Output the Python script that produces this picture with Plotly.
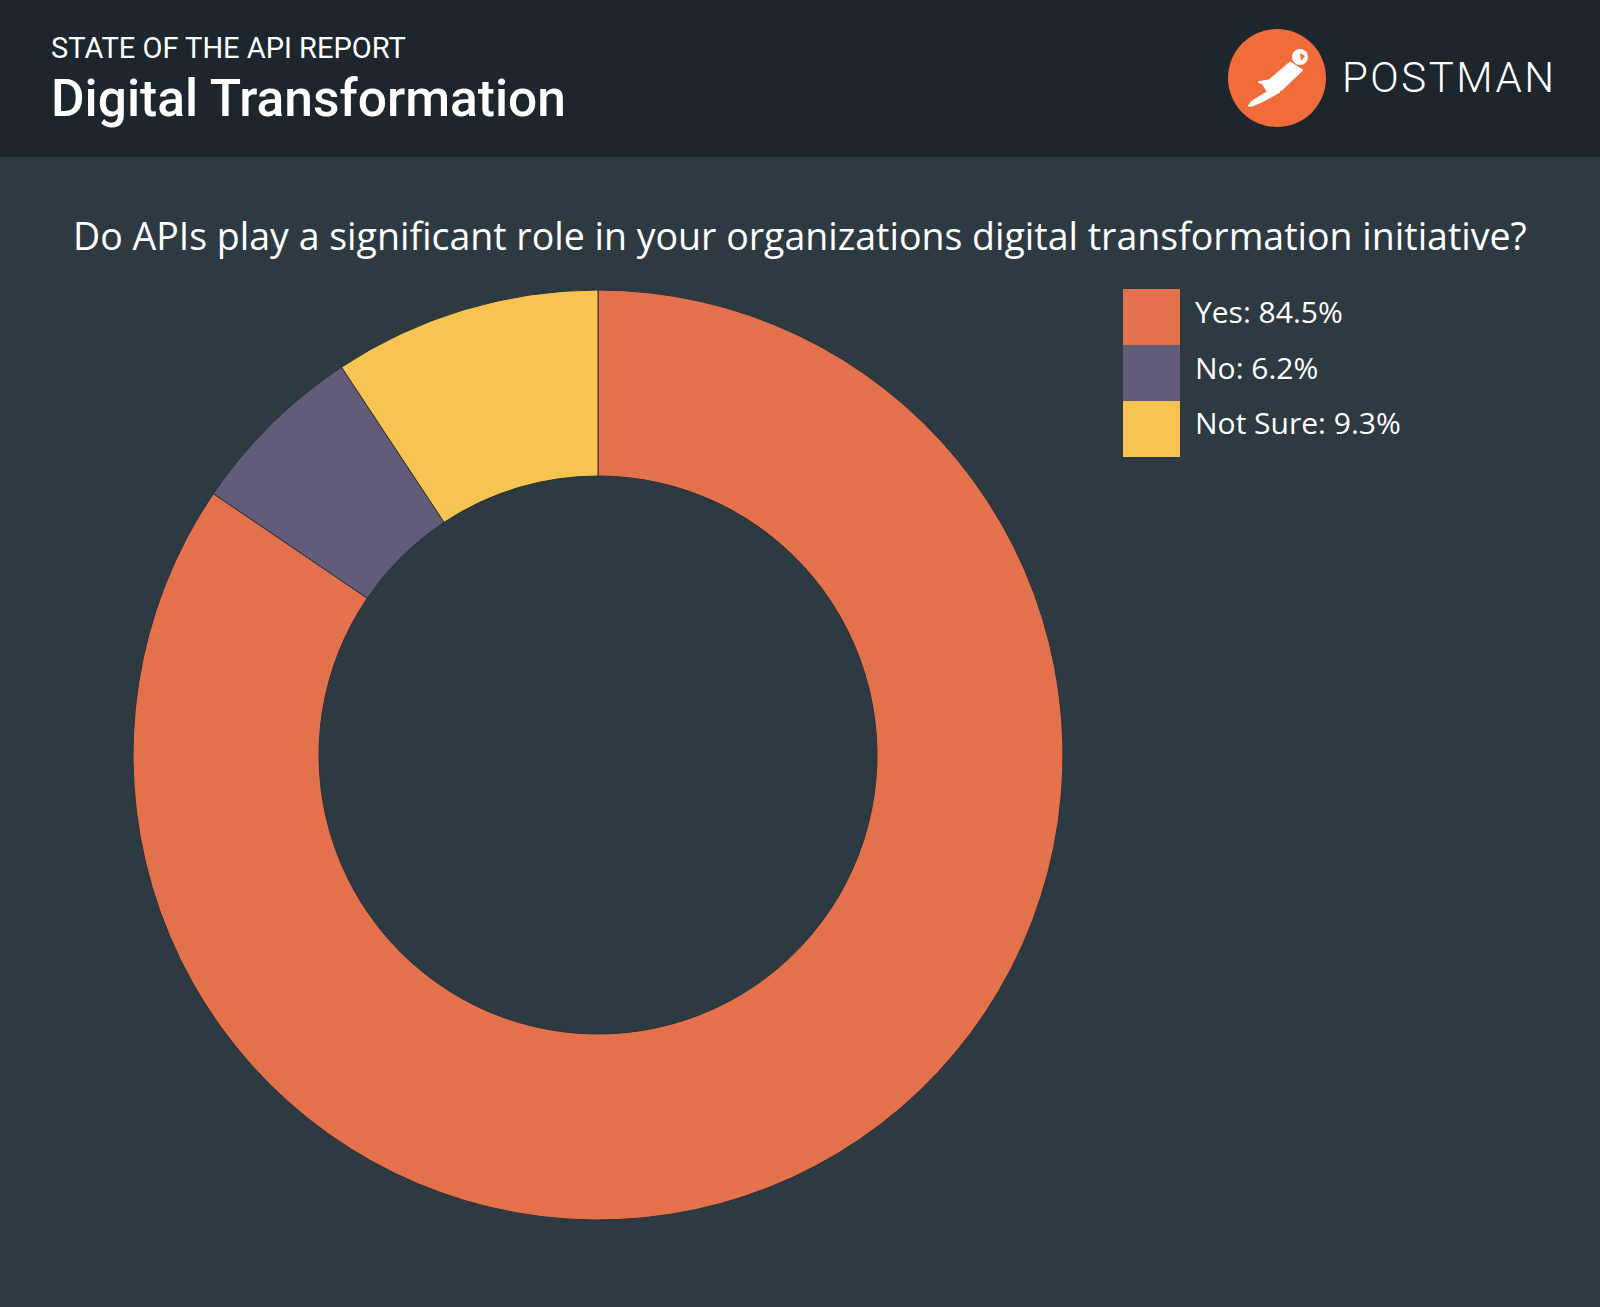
import plotly.graph_objects as go

W, H = 1600, 1307

# ---- data ----
labels = ["Yes", "No", "Not Sure"]
values = [84.5, 6.2, 9.3]
colors = ["#e3714b", "#625b7a", "#f7c452"]

header_kicker = "STATE OF THE API REPORT"
header_title = "Digital Transformation"
question = "Do APIs play a significant role in your organizations digital transformation initiative?"
brand = "POSTMAN"

BG = "#2e3a41"
HEADER_BG = "#1d262c"


def px_x(x):
    return x / W


def px_y(y):
    return 1 - y / H


fig = go.Figure()

cx, cy, r = 598, 755, 465
fig.add_trace(go.Pie(
    labels=labels,
    values=values,
    hole=0.6,
    sort=False,
    direction="clockwise",
    rotation=0,
    marker=dict(colors=colors, line=dict(color="#2b303a", width=1)),
    textinfo="none",
    hoverinfo="label+percent",
    showlegend=False,
    domain=dict(x=[px_x(cx - r), px_x(cx + r)], y=[px_y(cy + r), px_y(cy - r)]),
))

shapes = []
annotations = []

# header band
shapes.append(dict(type="rect", xref="paper", yref="paper", x0=0, x1=1,
                   y0=px_y(157), y1=1, fillcolor=HEADER_BG, line=dict(width=0), layer="below"))

# logo circle
lx, ly, lr = 1277, 78, 49
shapes.append(dict(type="circle", xref="paper", yref="paper",
                   x0=px_x(lx - lr), x1=px_x(lx + lr), y0=px_y(ly + lr), y1=px_y(ly - lr),
                   fillcolor="#f26b3a", line=dict(width=0)))


def P(x, y):
    return f"{px_x(x):.5f},{px_y(y):.5f}"


# stylised astronaut: torso, leg, head
torso = ("M " + P(1290, 62) + " L " + P(1303, 70) + " L " + P(1282, 90) +
         " L " + P(1268, 93) + " L " + P(1263, 85) + " Z")
shapes.append(dict(type="path", xref="paper", yref="paper", path=torso,
                   fillcolor="white", line=dict(color="white", width=1)))
leg = ("M " + P(1270, 90) + " L " + P(1280, 92) + " L " + P(1262, 102) +
       " L " + P(1252, 106) + " L " + P(1248, 106) + " L " + P(1252, 101) + " Z")
shapes.append(dict(type="path", xref="paper", yref="paper", path=leg,
                   fillcolor="white", line=dict(color="white", width=1)))
shapes.append(dict(type="path", xref="paper", yref="paper",
                   path="M " + P(1268, 80) + " L " + P(1258, 82) + " L " + P(1266, 86) + " Z",
                   fillcolor="white", line=dict(color="white", width=1)))
shapes.append(dict(type="circle", xref="paper", yref="paper",
                   x0=px_x(1292), x1=px_x(1308), y0=px_y(65), y1=px_y(49),
                   fillcolor="white", line=dict(width=0)))
shapes.append(dict(type="path", xref="paper", yref="paper",
                   path="M " + P(1300, 53) + " L " + P(1305, 56) + " L " + P(1301, 61) + " Z",
                   fillcolor="#f26b3a", line=dict(width=0)))

# header texts
annotations.append(dict(text=header_kicker, x=px_x(49), y=px_y(48), xref="paper", yref="paper",
                        xanchor="left", yanchor="middle", showarrow=False,
                        font=dict(family="Roboto", size=29, color="white")))
annotations.append(dict(text=header_title, x=px_x(49), y=px_y(98), xref="paper", yref="paper",
                        xanchor="left", yanchor="middle", showarrow=False,
                        font=dict(family="Roboto", size=51.5, color="white", weight=500)))
annotations.append(dict(text=f"<span style='letter-spacing:2.5px'>{brand}</span>",
                        x=px_x(1340), y=px_y(78), xref="paper", yref="paper",
                        xanchor="left", yanchor="middle", showarrow=False,
                        font=dict(family="Roboto", size=42, color="white", weight=300)))

# question
annotations.append(dict(text=question, x=0.5, y=px_y(236), xref="paper", yref="paper",
                        xanchor="center", yanchor="middle", showarrow=False,
                        font=dict(family="Open Sans", size=37.5, color="white")))

# custom legend
sx0, sx1, sy0, sh = 1123, 1180, 289, 56
for i, (lab, val, col) in enumerate(zip(labels, values, colors)):
    y0 = sy0 + i * sh
    shapes.append(dict(type="rect", xref="paper", yref="paper",
                       x0=px_x(sx0), x1=px_x(sx1), y0=px_y(y0 + sh), y1=px_y(y0),
                       fillcolor=col, line=dict(width=0)))
    annotations.append(dict(text=f"{lab}: {val}%", x=px_x(1193), y=px_y(y0 + sh / 2 - 6),
                            xref="paper", yref="paper", xanchor="left", yanchor="middle",
                            showarrow=False,
                            font=dict(family="Open Sans", size=30, color="white")))

fig.update_layout(
    width=W, height=H,
    margin=dict(l=0, r=0, t=0, b=0),
    paper_bgcolor=BG, plot_bgcolor=BG,
    shapes=shapes, annotations=annotations,
    showlegend=False,
)

fig.write_html("out.html", config={"displayModeBar": False},
               post_script="document.body.style.margin='0';document.body.style.background='#2e3a41';")
